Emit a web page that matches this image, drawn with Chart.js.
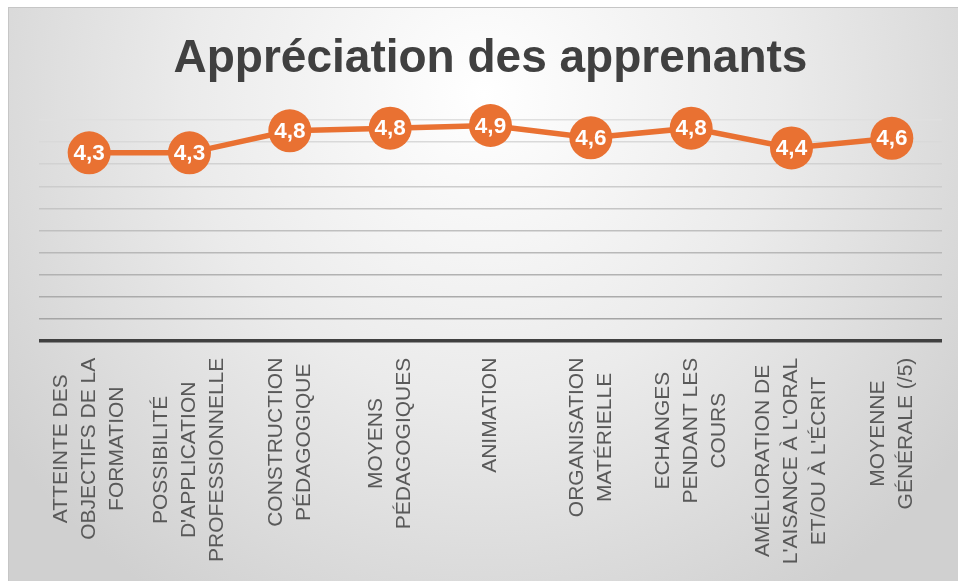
<!DOCTYPE html>
<html>
<head>
<meta charset="utf-8">
<script src="https://cdn.jsdelivr.net/npm/chart.js@4/dist/chart.umd.min.js"></script>
<style>
    html, body { margin: 0; padding: 0; background: #ffffff; }
    #fond {
        position: absolute; left: 8px; top: 7px; width: 950px; height: 574px;
        border-top: 1px solid #c6c6c6; border-left: 1px solid #c6c6c6;
        background: radial-gradient(ellipse 62% 105% at 50% 15%, #ffffff 0%, #ebebeb 50%, #d0d0d0 100%);
    }
    #grafico { position: absolute; left: 0; top: 0; }
</style>
</head>
<body>
<div id="fond"></div>
<canvas id="grafico" width="958" height="581"></canvas>
<script>
const titre = "Appréciation des apprenants";
const categories = [
    ["ATTEINTE DES", "OBJECTIFS DE LA", "FORMATION"],
    ["POSSIBILITÉ", "D'APPLICATION", "PROFESSIONNELLE"],
    ["CONSTRUCTION", "PÉDAGOGIQUE"],
    ["MOYENS", "PÉDAGOGIQUES"],
    ["ANIMATION"],
    ["ORGANISATION", "MATÉRIELLE"],
    ["ECHANGES", "PENDANT LES", "COURS"],
    ["AMÉLIORATION DE", "L'AISANCE À L'ORAL", "ET/OU À L'ÉCRIT"],
    ["MOYENNE", "GÉNÉRALE (/5)"]
];
const notes = [4.26, 4.26, 4.76, 4.82, 4.88, 4.60, 4.82, 4.37, 4.59];

const orange = "#E97132";

// etiquettes dans les ronds
const etiquettes = {
    id: "etiquettes",
    afterDatasetsDraw(chart) {
        const ctx = chart.ctx;
        const meta = chart.getDatasetMeta(0);
        ctx.save();
        ctx.font = "bold 22.5px 'Liberation Sans', Arial, sans-serif";
        ctx.fillStyle = "#ffffff";
        ctx.textAlign = "center";
        ctx.textBaseline = "middle";
        meta.data.forEach(function (pt, i) {
            ctx.fillText(notes[i].toFixed(1).replace(".", ","), pt.x, pt.y + 1);
        });
        ctx.restore();
    }
};

// libelles verticaux, lignes centrees entre elles
const libelles = {
    id: "libelles",
    afterDraw(chart) {
        const ctx = chart.ctx;
        const x = chart.scales.x;
        const haut = chart.chartArea.bottom + 17;
        ctx.save();
        ctx.font = "21px 'Liberation Sans', Arial, sans-serif";
        ctx.fillStyle = "#595959";
        ctx.textAlign = "center";
        ctx.textBaseline = "middle";
        categories.forEach(function (lignes, i) {
            const px = x.getPixelForValue(i);
            let largeur = 0;
            lignes.forEach(function (l) { largeur = Math.max(largeur, ctx.measureText(l).width); });
            lignes.forEach(function (l, j) {
                ctx.save();
                ctx.translate(px + (j - (lignes.length - 1) / 2) * 28, haut + largeur / 2);
                ctx.rotate(-Math.PI / 2);
                ctx.fillText(l, 0, 0);
                ctx.restore();
            });
        });
        ctx.restore();
    }
};

new Chart(document.getElementById("grafico").getContext("2d"), {
    type: "line",
    data: {
        labels: categories.map(function (c) { return c.join(" "); }),
        datasets: [{
            data: notes,
            borderColor: orange,
            backgroundColor: orange,
            borderWidth: 5.5,
            pointRadius: 21.5,
            pointHoverRadius: 21.5,
            pointBackgroundColor: orange,
            pointBorderWidth: 0,
            tension: 0,
            clip: false
        }]
    },
    options: {
        responsive: false,
        animation: false,
        layout: { autoPadding: false, padding: { left: 39, right: 16, top: 0, bottom: 240.3 } },
        plugins: {
            legend: { display: false },
            tooltip: { enabled: false },
            title: {
                display: true,
                text: titre,
                color: "#404040",
                font: { family: "'Liberation Sans', Arial, sans-serif", size: 46, weight: "bold" },
                padding: { top: 32, bottom: 33 }
            }
        },
        scales: {
            x: {
                offset: true,
                grid: { display: false, drawTicks: false },
                border: { display: false },
                ticks: { display: false }
            },
            y: {
                min: 0,
                max: 5,
                ticks: { display: false, stepSize: 0.5 },
                border: { display: false },
                grid: {
                    drawTicks: false,
                    color: function (c) {
                        if (c.index === 0) return "#404040";
                        const g = Math.round(158 + c.index * 6.5);
                        return "rgb(" + g + "," + g + "," + g + ")";
                    },
                    lineWidth: function (c) { return c.index === 0 ? 3.5 : 1.6; }
                }
            }
        }
    },
    plugins: [etiquettes, libelles]
});
</script>
</body>
</html>
